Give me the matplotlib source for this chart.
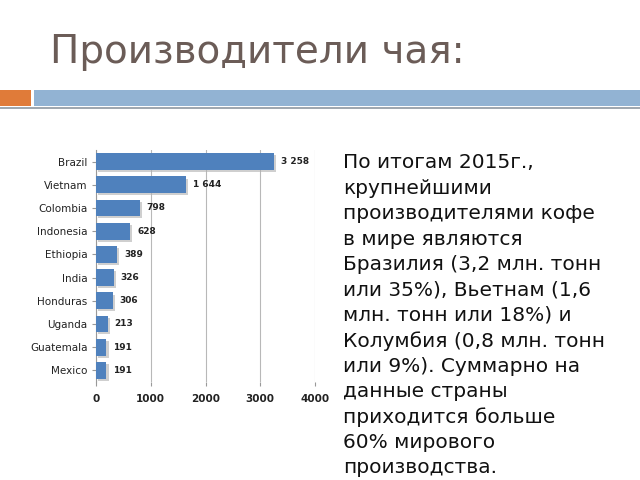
import matplotlib
matplotlib.use("Agg")
import matplotlib.pyplot as plt
import matplotlib.patheffects as pe
from matplotlib.patches import Rectangle

countries = ["Brazil", "Vietnam", "Colombia", "Indonesia", "Ethiopia", "India",
             "Honduras", "Uganda", "Guatemala", "Mexico"]
values = [3258, 1644, 798, 628, 389, 326, 306, 213, 191, 191]
value_labels = ["3 258", "1 644", "798", "628", "389", "326", "306", "213", "191", "191"]
xticks = [0, 1000, 2000, 3000, 4000]

title = "Производители чая:"
body_lines = [
    "По итогам 2015г.,",
    "крупнейшими",
    "производителями кофе",
    "в мире являются",
    "Бразилия (3,2 млн. тонн",
    "или 35%), Вьетнам (1,6",
    "млн. тонн или 18%) и",
    "Колумбия (0,8 млн. тонн",
    "или 9%). Суммарно на",
    "данные страны",
    "приходится больше",
    "60% мирового",
    "производства.",
]

fig = plt.figure(figsize=(6.4, 4.8), dpi=100)
fig.patch.set_facecolor("white")

# Title
fig.text(50/640, 1-52/480, title, fontsize=28, color="#6b5c57",
         ha="left", va="center", family="DejaVu Sans")

# Decorative bars
fig.patches.append(Rectangle((0, 1-106/480), 31/640, 16/480, transform=fig.transFigure,
                             facecolor="#e07b39", edgecolor="none"))
fig.patches.append(Rectangle((34/640, 1-106/480), 606/640, 16/480, transform=fig.transFigure,
                             facecolor="#92b3d3", edgecolor="none"))
fig.patches.append(Rectangle((0, 1-109/480), 1, 2/480, transform=fig.transFigure,
                             facecolor="#a0a8b0", edgecolor="none"))

# Chart
ax = fig.add_axes([96/640, 1-382/480, 219/640, 232/480])
y = list(range(len(countries)))
bars = ax.barh(y, values, height=0.72, color="#4f81bd", edgecolor="none", zorder=3)
for b in bars:
    b.set_path_effects([pe.SimplePatchShadow(offset=(1.5, -1.5), shadow_rgbFace="#b0b0b0", alpha=0.6),
                        pe.Normal()])
ax.set_ylim(len(countries)-0.5, -0.5)
ax.set_xlim(0, 4000)
ax.set_yticks(y)
ax.set_yticklabels(countries, fontsize=7.5, color="#222222")
ax.set_xticks(xticks)
ax.set_xticklabels([str(t) for t in xticks], fontsize=7.5, color="#222222", fontweight="bold")
ax.grid(axis="x", color="#b8b8b8", linewidth=0.8, zorder=0)
for s in ["top", "right"]:
    ax.spines[s].set_visible(False)
ax.spines["left"].set_color("#999999")
ax.spines["bottom"].set_visible(False)
ax.tick_params(axis="y", length=3, color="#999999", pad=3)
ax.tick_params(axis="x", length=3, color="#999999", pad=6)
for yi, v, lab in zip(y, values, value_labels):
    ax.annotate(lab, (v, yi), xytext=(5, 0), textcoords="offset points",
                va="center", ha="left", fontsize=6.5, fontweight="bold", color="#222222")

# Body text
for i, line in enumerate(body_lines):
    fig.text(343/640, 1-(163 + i*25.4)/480, line, fontsize=14.5, color="#111111",
             ha="left", va="center", family="DejaVu Sans")

fig.savefig("out.png", dpi=100)
